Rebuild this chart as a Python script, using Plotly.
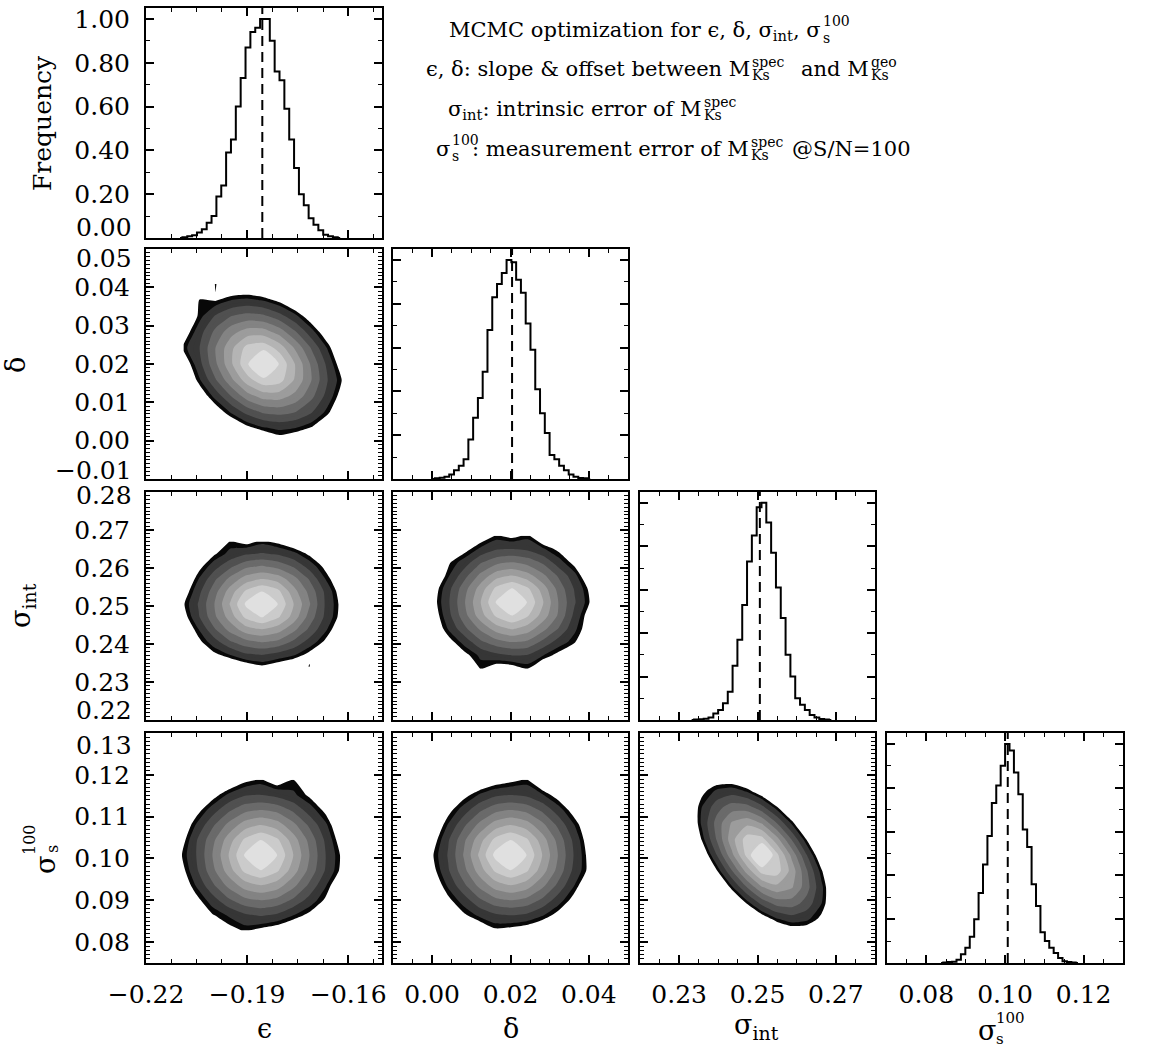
import plotly.graph_objects as go

# ---------------- data ----------------
freq_range = [0.0, 1.05]
eps_range = [-0.22, -0.15]
delta_range = [-0.01, 0.05]
sint_range = [0.22, 0.28]
ss_xrange = [0.07, 0.13]
ss_yrange = [0.075, 0.13]

freq_ticks = [0.0, 0.2, 0.4, 0.6, 0.8, 1.0]
eps_ticks = [-0.22, -0.19, -0.16]
delta_xticks = [0.00, 0.02, 0.04]
sint_xticks = [0.23, 0.25, 0.27]
ss_xticks = [0.08, 0.10, 0.12]
delta_yticks = [-0.01, 0.00, 0.01, 0.02, 0.03, 0.04, 0.05]
sint_yticks = [0.22, 0.23, 0.24, 0.25, 0.26, 0.27, 0.28]
ss_yticks = [0.08, 0.09, 0.10, 0.11, 0.12, 0.13]

# best-fit values (dashed lines)
eps_best = -0.1855
delta_best = 0.0204
sint_best = 0.2506
ss_best = 0.1007

# marginal histograms (normalised frequency), bin lower edge + width
eps_bin_lo, eps_bin_w = -0.2092, 0.00144
eps_hist = [0.003, 0.008, 0.012, 0.025, 0.04, 0.07, 0.10, 0.19, 0.24, 0.39, 0.45, 0.60,
            0.73, 0.87, 0.94, 0.96, 1.00, 1.00, 0.90, 0.76, 0.72, 0.59, 0.45, 0.32,
            0.20, 0.15, 0.09, 0.06, 0.035, 0.015, 0.008, 0.003]
delta_bin_lo, delta_bin_w = 0.0007, 0.00122
delta_hist = [0.003, 0.006, 0.01, 0.02, 0.04, 0.06, 0.09, 0.18, 0.28, 0.37, 0.49, 0.68,
              0.83, 0.89, 0.94, 1.00, 0.99, 0.91, 0.85, 0.71, 0.59, 0.41, 0.30, 0.21,
              0.11, 0.09, 0.06, 0.04, 0.02, 0.01, 0.005, 0.003]
sint_bin_lo, sint_bin_w = 0.2338, 0.00123
sint_hist = [0.002, 0.003, 0.006, 0.012, 0.03, 0.046, 0.077, 0.13, 0.25, 0.37, 0.53, 0.73,
             0.85, 0.98, 1.00, 0.91, 0.77, 0.61, 0.47, 0.30, 0.20, 0.10, 0.07, 0.046,
             0.023, 0.012, 0.005, 0.002]
ss_bin_lo, ss_bin_w = 0.0843, 0.001123
ss_hist = [0.002, 0.004, 0.006, 0.015, 0.04, 0.07, 0.12, 0.20, 0.32, 0.45, 0.58, 0.73,
           0.81, 0.90, 1.00, 0.97, 0.87, 0.77, 0.61, 0.53, 0.36, 0.26, 0.14, 0.10,
           0.07, 0.046, 0.023, 0.008, 0.004, 0.002]

# 2-D posterior density levels (0 = outside, 10 = peak), read on coarse grids
eps_delta_x = [-0.2089, -0.2041, -0.1994, -0.1946, -0.1899, -0.1851, -0.1804, -0.1756, -0.1709, -0.1661, -0.1614]
eps_delta_y = [-0.0009, 0.0033, 0.0075, 0.0117, 0.0158, 0.0200, 0.0242, 0.0283, 0.0325, 0.0367, 0.0409]
eps_delta_z = [
    [-6.0, -5.0, -4.0, -3.0, -2.0, -1.4, -0.4, -1.0, -1.5, -2.0, -3.0],
    [-4.0, -3.0, -2.0, -0.9, 0.2, 0.9, 1.2, 1.0, 0.4, -0.6, -1.9],
    [-3.5, -2.0, -0.3, 1.2, 2.4, 3.2, 3.4, 3.0, 2.1, 0.7, -0.8],
    [-2.3, -0.4, 1.4, 3.1, 4.6, 5.5, 5.5, 4.7, 3.3, 1.6, -0.2],
    [-1.2, 0.9, 2.9, 4.8, 6.6, 7.7, 7.4, 5.8, 4.0, 2.0, 0.3],
    [-0.4, 1.7, 3.8, 5.9, 7.9, 10.0, 7.9, 5.9, 3.8, 1.7, -0.4],
    [0.7, 2.0, 4.0, 5.8, 7.4, 7.7, 6.6, 4.8, 2.9, 0.9, -1.2],
    [-0.2, 1.6, 3.3, 4.7, 5.5, 5.5, 4.6, 3.1, 1.4, -0.4, -2.3],
    [-0.8, 0.7, 2.1, 3.0, 3.4, 3.2, 2.4, 1.2, -0.3, -2.0, -3.5],
    [-1.9, 0.6, 0.4, 1.0, 1.2, 0.9, 0.2, -0.9, -2.0, -3.0, -4.0],
    [-3.0, -2.0, 0.6, -1.0, -1.0, -1.4, -2.0, -3.0, -4.0, -5.0, -6.0],
]

eps_sint_x = [-0.2091, -0.2044, -0.1997, -0.1950, -0.1903, -0.1856, -0.1809, -0.1762, -0.1715, -0.1668, -0.1621]
eps_sint_y = [0.2340, 0.2373, 0.2406, 0.2439, 0.2472, 0.2505, 0.2538, 0.2571, 0.2604, 0.2637, 0.2670]
eps_sint_z = [
    [-4.1, -2.8, -1.7, -0.8, -0.2, 0.3, -0.2, -0.8, 0.6, -2.8, -4.1],
    [-2.8, -1.3, 0.3, 1.1, 1.9, 2.1, 1.7, 1.2, 0.2, -0.6, -2.8],
    [-1.7, 0.2, 1.6, 2.9, 3.7, 4.1, 3.8, 2.8, 1.6, 0.3, -1.2],
    [-0.8, 1.0, 2.9, 4.4, 5.6, 6.0, 5.5, 4.3, 2.8, 1.2, -0.5],
    [-0.1, 1.9, 3.8, 5.5, 7.3, 8.1, 7.2, 5.6, 3.6, 1.8, 0.1],
    [0.3, 2.1, 4.0, 6.1, 8.2, 10.0, 8.0, 6.0, 4.1, 1.9, 0.2],
    [-0.3, 1.7, 3.6, 5.5, 7.2, 8.0, 7.3, 5.4, 3.7, 1.8, -0.1],
    [-1.0, 1.0, 2.8, 4.3, 5.5, 6.0, 5.6, 4.4, 2.9, 1.0, -0.6],
    [-1.7, 0.1, 1.6, 2.8, 3.8, 4.1, 3.7, 2.9, 1.6, 0.2, -1.7],
    [-2.8, -1.1, 0.4, 1.3, 1.9, 2.1, 1.9, 1.3, 0.3, -1.0, -2.8],
    [-4.1, -2.8, -1.2, 0.6, 0.1, 0.7, 0.2, -0.5, -1.7, -2.8, -4.1],
]

delta_sint_x = [0.0004, 0.0044, 0.0084, 0.0124, 0.0164, 0.0204, 0.0244, 0.0284, 0.0324, 0.0364, 0.0404]
delta_sint_y = [0.2335, 0.2370, 0.2405, 0.2440, 0.2475, 0.2510, 0.2545, 0.2580, 0.2615, 0.2650, 0.2685]
delta_sint_z = [
    [-4.1, -2.8, -1.7, 0.6, -0.2, -0.1, 0.5, -0.8, -1.7, -2.8, -4.1],
    [-2.8, -1.3, 0.2, 1.2, 1.7, 2.0, 1.9, 1.0, 0.1, -1.3, -2.8],
    [-1.7, 0.1, 1.4, 2.8, 3.6, 4.0, 3.8, 2.7, 1.5, 0.6, -1.7],
    [-0.6, 1.2, 2.8, 4.2, 5.5, 6.1, 5.5, 4.3, 2.9, 1.2, -0.3],
    [-0.2, 1.8, 3.7, 5.6, 7.2, 8.0, 7.1, 5.5, 3.8, 1.7, -0.2],
    [0.1, 2.0, 4.0, 6.0, 8.1, 10.0, 7.9, 6.0, 3.9, 2.1, 0.4],
    [-0.1, 1.8, 3.7, 5.5, 7.3, 8.1, 7.2, 5.5, 3.6, 1.9, 0.2],
    [-0.9, 1.0, 2.7, 4.3, 5.6, 6.0, 5.4, 4.2, 2.8, 1.3, -0.8],
    [-1.7, 0.4, 1.5, 2.9, 3.7, 4.0, 3.6, 2.8, 1.4, 0.1, -1.4],
    [-2.8, -0.9, 0.1, 1.2, 1.9, 2.0, 1.8, 1.1, 0.2, -1.3, -2.8],
    [-4.1, -2.8, -1.7, -0.3, 0.6, 0.2, 0.7, -0.8, -1.7, -2.8, -4.1],
]

eps_ss_x = [-0.2099, -0.2051, -0.2003, -0.1955, -0.1907, -0.1859, -0.1811, -0.1763, -0.1715, -0.1667, -0.1619]
eps_ss_y = [0.0828, 0.0864, 0.0900, 0.0936, 0.0972, 0.1008, 0.1044, 0.1080, 0.1116, 0.1152, 0.1188]
eps_ss_z = [
    [-4.1, -2.8, -1.7, 0.1, 0.6, 0.2, -0.2, -0.8, -1.7, -2.8, -4.1],
    [-2.8, -1.3, 0.4, 1.1, 1.8, 2.1, 1.8, 1.0, 0.2, -1.3, -2.8],
    [-1.7, 0.1, 1.5, 2.8, 3.7, 4.0, 3.7, 2.8, 1.6, 0.3, -1.7],
    [-0.7, 1.1, 2.8, 4.3, 5.5, 6.0, 5.5, 4.3, 2.8, 1.1, -0.8],
    [-0.1, 1.8, 3.7, 5.5, 7.3, 8.0, 7.2, 5.5, 3.7, 1.9, 0.2],
    [0.3, 2.0, 4.0, 6.0, 8.1, 10.0, 8.0, 6.0, 4.0, 2.0, 0.3],
    [-0.2, 1.9, 3.7, 5.5, 7.2, 8.0, 7.2, 5.5, 3.7, 1.8, -0.2],
    [-0.8, 1.1, 2.8, 4.3, 5.5, 6.0, 5.5, 4.3, 2.8, 1.2, -0.8],
    [-1.7, 0.0, 1.5, 2.8, 3.7, 4.0, 3.7, 2.8, 1.5, 0.2, -1.7],
    [-2.8, -1.3, 0.0, 1.2, 1.9, 2.0, 1.7, 1.2, 0.3, -0.9, -2.8],
    [-4.1, -2.8, -1.7, -0.8, 0.2, 0.6, -0.2, 0.5, -1.7, -2.8, -4.1],
]

delta_ss_x = [0.0001, 0.0041, 0.0081, 0.0121, 0.0161, 0.0201, 0.0241, 0.0281, 0.0321, 0.0361, 0.0401]
delta_ss_y = [0.0828, 0.0864, 0.0900, 0.0936, 0.0972, 0.1008, 0.1044, 0.1080, 0.1116, 0.1152, 0.1188]
delta_ss_z = [
    [-4.1, -2.8, -1.7, -0.6, 0.3, 0.1, -0.2, -0.8, 0.5, -2.8, -4.1],
    [-2.8, -1.1, 0.3, 1.2, 1.8, 2.0, 1.8, 1.1, 0.1, -1.3, -2.8],
    [-1.7, 0.2, 1.5, 2.8, 3.7, 4.0, 3.7, 2.8, 1.5, 0.1, -1.7],
    [-0.6, 1.2, 2.8, 4.3, 5.5, 6.0, 5.5, 4.3, 2.8, 1.1, -0.7],
    [0.1, 1.9, 3.7, 5.5, 7.2, 8.0, 7.2, 5.5, 3.7, 1.8, 0.2],
    [0.4, 2.1, 4.1, 6.2, 8.3, 10.0, 8.0, 6.0, 4.0, 2.0, 0.1],
    [-0.1, 1.9, 3.8, 5.6, 7.3, 8.0, 7.2, 5.5, 3.7, 1.8, -0.2],
    [-0.8, 1.1, 2.8, 4.3, 5.5, 6.0, 5.5, 4.3, 2.8, 1.1, -0.6],
    [-1.7, 0.1, 1.5, 2.8, 3.7, 4.0, 3.7, 2.8, 1.5, 0.0, -1.7],
    [-2.8, -1.3, 0.1, 1.1, 1.8, 2.0, 1.8, 1.1, 0.0, -1.3, -2.8],
    [-4.1, -2.8, -1.7, -0.8, -0.2, 0.2, 0.6, -0.8, -1.7, -2.8, -4.1],
]

sint_ss_x = [0.2320, 0.2358, 0.2396, 0.2434, 0.2473, 0.2511, 0.2549, 0.2588, 0.2626, 0.2664, 0.2703]
sint_ss_y = [0.0817, 0.0855, 0.0893, 0.0931, 0.0970, 0.1008, 0.1046, 0.1085, 0.1123, 0.1161, 0.1200]
sint_ss_z = [
    [-10.0, -8.5, -7.0, -5.5, -4.0, -2.8, -1.6, -0.8, -0.7, -1.2, -2.3],
    [-8.0, -6.5, -5.0, -3.5, -1.9, -0.3, 0.9, 1.5, 1.2, 0.2, -1.4],
    [-7.0, -5.5, -3.5, -1.5, 0.6, 2.3, 3.4, 3.5, 2.6, 1.0, -1.0],
    [-6.0, -4.0, -1.6, 0.8, 3.0, 4.9, 5.7, 5.1, 3.4, 1.2, -1.3],
    [-4.8, -2.2, 0.4, 2.9, 5.4, 7.4, 7.5, 5.6, 3.1, 0.6, -2.0],
    [-3.3, -0.6, 2.0, 4.7, 7.3, 10.0, 7.3, 4.7, 2.0, -0.6, -3.3],
    [-2.0, 0.6, 3.1, 5.6, 7.5, 7.4, 5.4, 2.9, 0.4, -2.2, -4.8],
    [-1.3, 1.2, 3.4, 5.1, 5.7, 4.9, 3.0, 0.8, -1.6, -4.0, -6.0],
    [-1.0, 1.0, 2.6, 3.5, 3.4, 2.3, 0.6, -1.5, -3.5, -5.5, -7.0],
    [-1.4, 0.2, 1.2, 1.5, 0.9, -0.3, -1.9, -3.5, -5.0, -6.5, -8.0],
    [-2.3, -1.2, -0.7, -0.8, -1.6, -2.8, -4.0, -5.5, -7.0, -8.5, -10.0],
]

# ---------------- style / layout ----------------
W, H = 1168, 1047
SERIF = "DejaVu Serif"
col_px = [(146, 382), (393, 628), (640, 875), (887, 1123)]
row_px = [(8, 238), (249, 479), (492, 720), (733, 963)]

# contour levels every 0.5 from 0.5; thin black rim [0.5,1), then grey bands per unit
band_greys = ["#363636", "#505050", "#6a6a6a", "#838383", "#9c9c9c", "#b4b4b4", "#cbcbcb", "#e0e0e0"]
grey_scale = [[0.0, "#ffffff"], [0.5 / 9, "#080808"]]
for k in range(1, 9):
    grey_scale.append([k / 9, band_greys[k - 1]])
    grey_scale.append([(k + 0.5) / 9, band_greys[k - 1]])
grey_scale.append([1.0, band_greys[-1]])

xcfg = [
    dict(range=eps_range, tickvals=eps_ticks, mdt=0.0075, m0=-0.22),
    dict(range=delta_range, tickvals=delta_xticks, mdt=0.005, m0=0.0),
    dict(range=sint_range, tickvals=sint_xticks, mdt=0.005, m0=0.22),
    dict(range=ss_xrange, tickvals=ss_xticks, mdt=0.005, m0=0.07),
]
ycfg = [
    None,
    dict(range=delta_range, tickvals=delta_yticks, mdt=0.001, m0=0.0),
    dict(range=sint_range, tickvals=sint_yticks, mdt=0.001, m0=0.22),
    dict(range=ss_yrange, tickvals=ss_yticks, mdt=0.001, m0=0.08),
]
freq_cfg = dict(range=freq_range, tickvals=freq_ticks, mdt=0.1, m0=0.0)

hists = [
    (eps_bin_lo, eps_bin_w, eps_hist, eps_best),
    (delta_bin_lo, delta_bin_w, delta_hist, delta_best),
    (sint_bin_lo, sint_bin_w, sint_hist, sint_best),
    (ss_bin_lo, ss_bin_w, ss_hist, ss_best),
]
grids = {
    (1, 0): (eps_delta_x, eps_delta_y, eps_delta_z),
    (2, 0): (eps_sint_x, eps_sint_y, eps_sint_z),
    (2, 1): (delta_sint_x, delta_sint_y, delta_sint_z),
    (3, 0): (eps_ss_x, eps_ss_y, eps_ss_z),
    (3, 1): (delta_ss_x, delta_ss_y, delta_ss_z),
    (3, 2): (sint_ss_x, sint_ss_y, sint_ss_z),
}


def fmt(v):
    s = "%.2f" % v
    return s.replace("-", "\u2212")


fig = go.Figure()
layout = dict(width=W, height=H, margin=dict(l=0, r=0, t=0, b=0, pad=0), autosize=False,
              template="none",
              paper_bgcolor="white", plot_bgcolor="white", showlegend=False,
              font=dict(family=SERIF, color="black"))
annotations = []

TICKFONT = dict(family=SERIF, size=25, color="black")


def axis_dict(cfg, dom, show_labels, edge_blank, is_x):
    labels = []
    for v in cfg["tickvals"]:
        if not show_labels or (v in edge_blank):
            labels.append("")
        else:
            labels.append(fmt(v))
    d = dict(domain=dom, range=cfg["range"], tickmode="array", tickvals=cfg["tickvals"],
             ticktext=labels, ticks="inside", ticklen=8, tickwidth=1.5, tickcolor="black",
             showline=True, linewidth=2, linecolor="black", mirror="allticks",
             showgrid=False, zeroline=False, tickfont=TICKFONT, automargin=False,
             ticklabelstandoff=8 if is_x else 9,
             minor=dict(ticks="inside", ticklen=4, tickwidth=1, tickcolor="black",
                        dtick=cfg["mdt"], tick0=cfg["m0"], showgrid=False))
    return d


idx = 0
for r in range(4):
    for c in range(r + 1):
        idx += 1
        xa = "x" if idx == 1 else "x%d" % idx
        ya = "y" if idx == 1 else "y%d" % idx
        xdom = [col_px[c][0] / W, col_px[c][1] / W]
        ydom = [1 - row_px[r][1] / H, 1 - row_px[r][0] / H]
        ycf = freq_cfg if c == r else ycfg[r]
        # y edge labels drawn as shifted annotations (as in the original)
        y_edges = {}
        if c == 0:
            if r == 0:
                y_edges = {0.0: 10}
            elif r == 1:
                y_edges = {0.05: -9, -0.01: 9}
            elif r == 2:
                y_edges = {0.28: -4, 0.22: 10}
            else:
                y_edges = {0.13: -12}
        layout["xaxis" if idx == 1 else "xaxis%d" % idx] = dict(
            anchor=ya, **axis_dict(xcfg[c], xdom, r == 3, [], True))
        layout["yaxis" if idx == 1 else "yaxis%d" % idx] = dict(
            anchor=xa, **axis_dict(ycf, ydom, c == 0, list(y_edges.keys()), False))
        for v, sh in y_edges.items():
            annotations.append(dict(text=fmt(v), xref="paper", x=col_px[0][0] / W, xshift=-12,
                                    xanchor="right", yref=ya, y=v, yshift=sh, yanchor="middle",
                                    showarrow=False, font=TICKFONT))
        if c == r:
            lo, w, h, best = hists[c]
            xs = [lo + (k + 0.5) * w for k in range(-1, len(h) + 1)]
            ys = [0.0] + list(h) + [0.0]
            fig.add_trace(go.Scatter(x=xs, y=ys, mode="lines", xaxis=xa, yaxis=ya,
                                     line=dict(color="black", width=2, shape="hvh"),
                                     hoverinfo="skip"))
            fig.add_trace(go.Scatter(x=[best, best], y=[freq_range[0], freq_range[1]],
                                     mode="lines", xaxis=xa, yaxis=ya,
                                     line=dict(color="black", width=2, dash="10px,6px"),
                                     hoverinfo="skip"))
        else:
            gx, gy, gz = grids[(r, c)]
            fig.add_trace(go.Contour(x=gx, y=gy, z=gz, xaxis=xa, yaxis=ya,
                                     autocontour=False,
                                     contours=dict(start=0.5, end=9.0, size=0.5,
                                                   coloring="fill", showlines=False),
                                     colorscale=grey_scale, showscale=False,
                                     line=dict(width=0, smoothing=0.6),
                                     hoverinfo="skip"))


def ann(text, px, py, size, xanchor="center", angle=0, pad=1):
    return dict(text=text, xref="paper", yref="paper", x=px / W, y=1 - py / H,
                xanchor=xanchor, yanchor="middle", showarrow=False, textangle=angle,
                borderpad=pad, font=dict(family=SERIF, size=size, color="black"))


# header text block
HS, SS = 21, 14
annotations += [
    ann("MCMC optimization for \u03f5, \u03b4, \u03c3<sub>int</sub>, \u03c3", 822, 31, HS, "right", pad=0),
    ann("100", 822, 21, SS, "left", pad=0), ann("s", 822, 38, SS, "left", pad=0),
    ann("\u03f5, \u03b4: slope &amp; offset between M", 751, 69, HS, "right", pad=0),
    ann("spec", 751, 62, SS, "left", pad=0), ann("Ks", 751, 75, SS, "left", pad=0),
    ann("and M", 870, 69, HS, "right", pad=0),
    ann("geo", 870, 62, SS, "left", pad=0), ann("Ks", 870, 75, SS, "left", pad=0),
    ann("\u03c3<sub>int</sub>: intrinsic error of M", 703, 110, HS, "right", pad=0),
    ann("spec", 703, 102, SS, "left", pad=0), ann("Ks", 703, 115, SS, "left", pad=0),
    ann("\u03c3", 451, 149, HS, "right", pad=0),
    ann("100", 451, 140, SS, "left", pad=0), ann("s", 451, 156, SS, "left", pad=0),
    ann(": measurement error of M", 750, 149, HS, "right", pad=0),
    ann("spec", 750, 142, SS, "left", pad=0), ann("Ks", 750, 155, SS, "left", pad=0),
    ann("@S/N=100", 791, 149, HS, "left", pad=0),
]

# axis titles
annotations += [
    ann("Frequency", 43, 123, 25, angle=-90),
    ann("\u03b4", 15, 365, 27, angle=-90),
    ann("\u03c3<sub>int</sub>", 22, 606, 27, angle=-90),
    ann("\u03c3", 45, 865, 27, angle=-90),
    ann("s", 52, 849, 16, angle=-90),
    ann("100", 29, 840, 16, angle=-90),
    ann("\u03f5", 264, 1028, 27),
    ann("\u03b4", 511, 1028, 27),
    ann("\u03c3<sub>int</sub>", 756, 1026, 27),
    ann("\u03c3", 987, 1030, 27),
    ann("100", 994, 1018, 15, "left"),
    ann("s", 994, 1039, 15, "left"),
]

layout["annotations"] = annotations
fig.update_layout(**layout)
fig.write_html("out.html")
